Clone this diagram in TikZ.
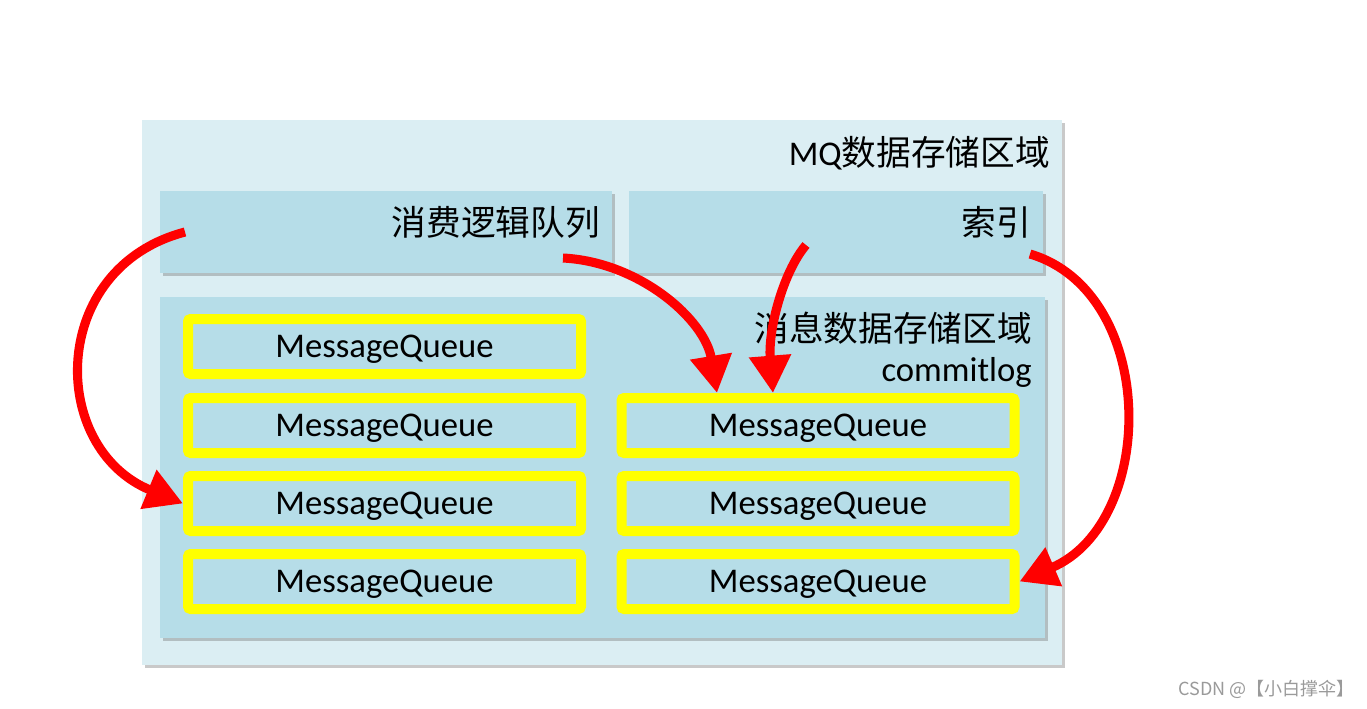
\documentclass[tikz,border=0pt]{standalone}
\usepackage{fontspec}
\setmainfont{Carlito}
\newfontfamily\cjk{Noto Sans CJK SC}
\usetikzlibrary{arrows.meta,shadows,calc}
\definecolor{outerbg}{HTML}{DBEEF3}
\definecolor{innerbg}{HTML}{B6DDE8}
\definecolor{mqyellow}{HTML}{FFFF00}
\definecolor{arrowred}{HTML}{FF0000}
\definecolor{wmgray}{HTML}{9A9A9A}
\tikzset{
  softshadow/.style={drop shadow={opacity=0.35, shadow xshift=2.5pt, shadow yshift=-2.5pt, fill=black!60}},
  panel/.style={fill=#1, draw=none, anchor=north west, inner sep=0pt, outer sep=0pt, softshadow},
  mqbox/.style={fill=innerbg, draw=mqyellow, line width=7.5pt, rounded corners=2pt,
    minimum width=393*0.75pt, minimum height=55*0.75pt, inner sep=0pt, text depth=0pt,
    font=\fontsize{26}{30}\selectfont, softshadow},
  lbl/.style={anchor=east, inner sep=0pt, font=\fontsize{26}{30}\selectfont},
  flow/.style={draw=arrowred, line width=6.8pt, -{Triangle[length=28pt,width=30pt]}},
}
\begin{document}
\begin{tikzpicture}[x=0.75pt, y=-0.75pt]
\useasboundingbox[fill=white] (0,0) rectangle (1367,708);
% outer region
\node[panel=outerbg, minimum width=920*0.75pt, minimum height=545*0.75pt] (outer) at (142,120) {};
\node[lbl] (outerlbl) at (1050,153) {MQ{\cjk 数据存储区域}};
% consumer queue panel
\node[panel=innerbg, minimum width=452*0.75pt, minimum height=82*0.75pt] (consumer) at (160,191) {};
\node[lbl] (consumerlbl) at (600,222) {\cjk 消费逻辑队列};
% index panel
\node[panel=innerbg, minimum width=414*0.75pt, minimum height=82*0.75pt] (index) at (629,191) {};
\node[lbl] (indexlbl) at (1031,222) {\cjk 索引};
% message storage panel
\node[panel=innerbg, minimum width=885*0.75pt, minimum height=341*0.75pt] (store) at (160,297) {};
\node[lbl] (storelbl) at (1032,328) {\cjk 消息数据存储区域};
\node[lbl, anchor=base east] (commitlbl) at (1032,381) {commitlog};
% message queues
\node[mqbox] (mqL1) at (384.5,346.5) {MessageQueue};
\node[mqbox] (mqL2) at (384.5,425.5) {MessageQueue};
\node[mqbox] (mqL3) at (384.5,503.5) {MessageQueue};
\node[mqbox] (mqL4) at (384.5,581.5) {MessageQueue};
\node[mqbox] (mqR2) at (818,425.5) {MessageQueue};
\node[mqbox] (mqR3) at (818,503.5) {MessageQueue};
\node[mqbox] (mqR4) at (818,581.5) {MessageQueue};
% arrow start points
\coordinate (a1s) at (185,232);
\coordinate (a2s) at (563,258);
\coordinate (a3s) at (806,245);
\coordinate (a4s) at (1030,254);
% arrows
\draw[flow] (a1s) .. controls (48,268) and (48,448) .. (mqL3.west);
\draw[flow] (a2s) .. controls (640,262) and (705,320) .. ($(mqR2.north)+(-101,0)$);
\draw[flow] (a3s) .. controls (783,272) and (768,330) .. ($(mqR2.north)+(-45,0)$);
\draw[flow] (a4s) .. controls (1158,292) and (1158,522) .. (mqR4.east);
% watermark
\node[anchor=east, inner sep=0pt, text=wmgray, font=\cjk\fontsize{13.5}{15}\selectfont] (wm) at (1355,689) {CSDN @【小白撑伞】};
\end{tikzpicture}
\end{document}
